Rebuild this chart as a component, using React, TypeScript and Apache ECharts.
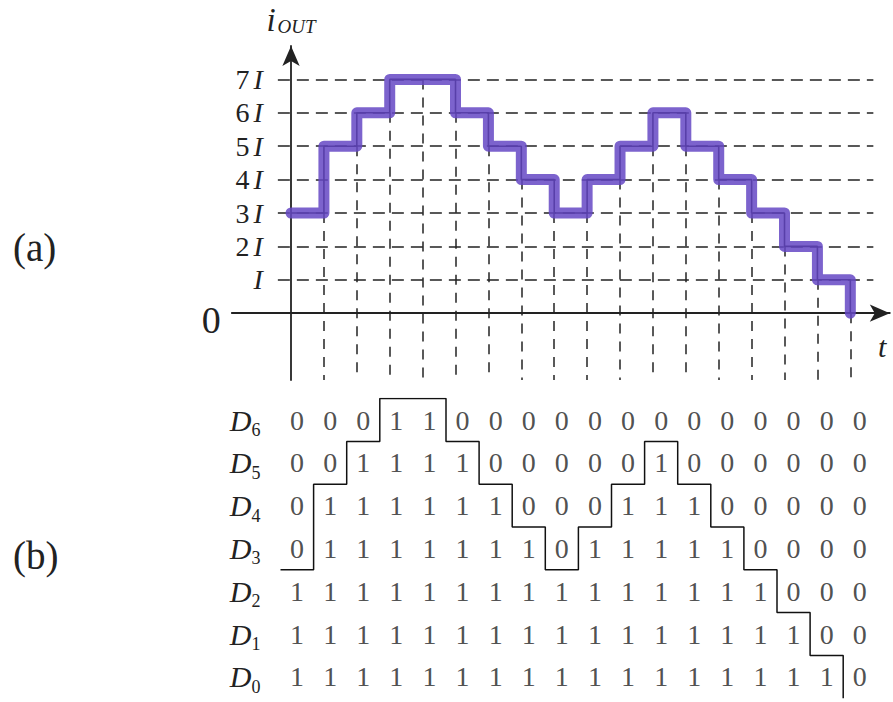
import React, { useEffect, useRef } from "react";
import * as echarts from "echarts";

// sample index (time slots) and the thermometer-coded output level at each slot
const samples = [0, 1, 2, 3, 4, 5, 6, 7, 8, 9, 10, 11, 12, 13, 14, 15, 16, 17];
const codeValues = [3, 5, 6, 7, 7, 6, 5, 4, 3, 4, 5, 6, 5, 4, 3, 2, 1, 0];
const levelTicks = [0, 1, 2, 3, 4, 5, 6, 7];
const levelLabels = ["0", "I", "2I", "3I", "4I", "5I", "6I", "7I"];
const bitRows = ["D0", "D1", "D2", "D3", "D4", "D5", "D6"];

const SERIF = '"Liberation Serif", "DejaVu Serif", serif';
const INK = "#222";

export default function App() {
  const ref = useRef<HTMLDivElement>(null);

  useEffect(() => {
    if (!ref.current) return;
    const chart = echarts.init(ref.current, null, { renderer: "svg" });

    // step curve of the output current
    const stepPts: number[][] = [[samples[0], codeValues[0]]];
    for (let k = 0; k < samples.length - 1; k++) {
      stepPts.push([samples[k + 1], codeValues[k]]);
      stepPts.push([samples[k + 1], codeValues[k + 1]]);
    }

    // dashed level lines
    const hLines = levelTicks
      .filter((l) => l > 0)
      .map((l) => ({ coords: [[-0.4, l], [17.7, l]] }));
    // dashed sample lines
    const vLines = samples
      .filter((k) => k > 0)
      .map((k) => ({
        coords: [
          [k, Math.min(codeValues[k - 1], codeValues[k])],
          [k, -2],
        ],
      }));

    // bit table
    const bits: any[] = [];
    samples.forEach((k, ci) => {
      bitRows.forEach((_, r) => {
        bits.push([k, r, r < codeValues[ci] ? 1 : 0]);
      });
    });
    // boundary staircase between 1s and 0s
    const boundary: number[][] = [[samples[0] - 0.5, codeValues[0] - 0.5]];
    for (let k = 0; k < samples.length - 1; k++) {
      boundary.push([samples[k] + 0.5, codeValues[k] - 0.5]);
      boundary.push([samples[k] + 0.5, codeValues[k + 1] - 0.5]);
    }

    const option: any = {
      animation: false,
      backgroundColor: "#fff",
      grid: [
        { left: 231.8, top: 46, width: 658, height: 334 },
        { left: 280.5, top: 398.6, width: 595.8, height: 299.6 },
      ],
      xAxis: [
        {
          type: "value",
          gridIndex: 0,
          min: -1.8,
          max: 18.2,
          axisLine: {
            show: true,
            onZero: true,
            symbol: ["none", "arrow"],
            symbolSize: [13, 20],
            lineStyle: { color: INK, width: 1.8 },
          },
          axisTick: { show: false },
          axisLabel: { show: false },
          splitLine: { show: false },
        },
        {
          type: "value",
          gridIndex: 1,
          min: -0.5,
          max: 17.5,
          axisLine: { show: false },
          axisTick: { show: false },
          axisLabel: { show: false },
          splitLine: { show: false },
        },
      ],
      yAxis: [
        {
          type: "value",
          gridIndex: 0,
          min: -2,
          max: 8,
          interval: 1,
          name: "{i|i}{o|OUT}",
          nameLocation: "end",
          nameGap: 10,
          nameTextStyle: {
            rich: {
              i: {
                fontFamily: SERIF,
                fontStyle: "italic",
                fontSize: 33,
                color: INK,
                lineHeight: 32,
              },
              o: {
                fontFamily: SERIF,
                fontStyle: "italic",
                fontSize: 19,
                color: INK,
                lineHeight: 32,
                verticalAlign: "bottom",
                padding: [0, 0, 0, 2],
              },
            },
          },
          axisLine: {
            show: true,
            onZero: true,
            symbol: ["none", "arrow"],
            symbolSize: [13, 20],
            lineStyle: { color: INK, width: 1.8 },
          },
          axisTick: { show: false },
          splitLine: { show: false },
          axisLabel: {
            margin: -31,
            formatter: (v: number) => {
              const idx = levelTicks.indexOf(v);
              if (idx < 0) return "";
              const lab = levelLabels[idx];
              if (lab === "0") return "{z|0}";
              if (lab === "I") return "{i|I}";
              return `{n|${lab.slice(0, -1)}}{i|I}`;
            },
            rich: {
              n: { fontFamily: SERIF, fontSize: 28, color: INK },
              i: {
                fontFamily: SERIF,
                fontStyle: "italic",
                fontSize: 28,
                color: INK,
                padding: [0, 0, 0, 4],
              },
              z: {
                fontFamily: SERIF,
                fontSize: 38,
                color: INK,
                padding: [14, 42, 0, 0],
              },
            },
          },
        },
        {
          type: "value",
          gridIndex: 1,
          min: -0.5,
          max: 6.5,
          axisLine: { show: false, onZero: false },
          axisTick: { show: false },
          splitLine: { show: false },
          axisLabel: {
            margin: 20,
            customValues: bitRows.map((_, i) => i),
            formatter: (v: number) => {
              const name = bitRows[Math.round(v)];
              if (!name) return "";
              return `{d|${name.slice(0, 1)}}{s|${name.slice(1)}}`;
            },
            rich: {
              d: {
                fontFamily: SERIF,
                fontStyle: "italic",
                fontSize: 30,
                color: INK,
                lineHeight: 38,
              },
              s: {
                fontFamily: SERIF,
                fontSize: 18,
                color: INK,
                lineHeight: 38,
                verticalAlign: "bottom",
              },
            },
          },
        },
      ],
      series: [
        {
          type: "lines",
          coordinateSystem: "cartesian2d",
          xAxisIndex: 0,
          yAxisIndex: 0,
          silent: true,
          z: 1,
          lineStyle: { color: INK, width: 1.5, type: [12, 7], opacity: 1 },
          data: hLines,
        },
        {
          type: "lines",
          coordinateSystem: "cartesian2d",
          xAxisIndex: 0,
          yAxisIndex: 0,
          silent: true,
          z: 1,
          lineStyle: { color: INK, width: 1.5, type: [10, 8], opacity: 1 },
          data: vLines,
        },
        {
          type: "line",
          xAxisIndex: 0,
          yAxisIndex: 0,
          data: stepPts,
          showSymbol: false,
          silent: true,
          z: 3,
          lineStyle: { color: "#111", width: 1.6 },
        },
        {
          type: "line",
          xAxisIndex: 0,
          yAxisIndex: 0,
          data: stepPts,
          showSymbol: false,
          silent: true,
          z: 4,
          lineStyle: {
            color: "#6548c4",
            width: 11,
            opacity: 0.85,
            cap: "round",
            join: "round",
          },
        },
        {
          type: "scatter",
          xAxisIndex: 1,
          yAxisIndex: 1,
          data: bits,
          symbolSize: 1,
          silent: true,
          itemStyle: { color: "rgba(0,0,0,0)" },
          label: {
            show: true,
            position: "inside",
            formatter: (p: any) => String(p.value[2]),
            fontFamily: SERIF,
            fontSize: 28,
            color: INK,
          },
        },
        {
          type: "line",
          xAxisIndex: 1,
          yAxisIndex: 1,
          data: boundary,
          showSymbol: false,
          silent: true,
          lineStyle: { color: "#111", width: 1.5 },
        },
      ],
      graphic: [
        {
          type: "text",
          x: 13,
          y: 247,
          style: {
            text: "(a)",
            font: `39px ${SERIF}`,
            fill: INK,
            verticalAlign: "middle",
          },
        },
        {
          type: "text",
          x: 13,
          y: 555,
          style: {
            text: "(b)",
            font: `39px ${SERIF}`,
            fill: INK,
            verticalAlign: "middle",
          },
        },
        {
          type: "text",
          x: 878,
          y: 346,
          style: {
            text: "t",
            font: `italic 30px ${SERIF}`,
            fill: INK,
            verticalAlign: "middle",
          },
        },
      ],
    };

    chart.setOption(option);
    return () => chart.dispose();
  }, []);

  return (
    <div
      ref={ref}
      style={{
        position: "fixed",
        left: 0,
        top: 0,
        width: 893,
        height: 702,
        background: "#fff",
      }}
    />
  );
}
